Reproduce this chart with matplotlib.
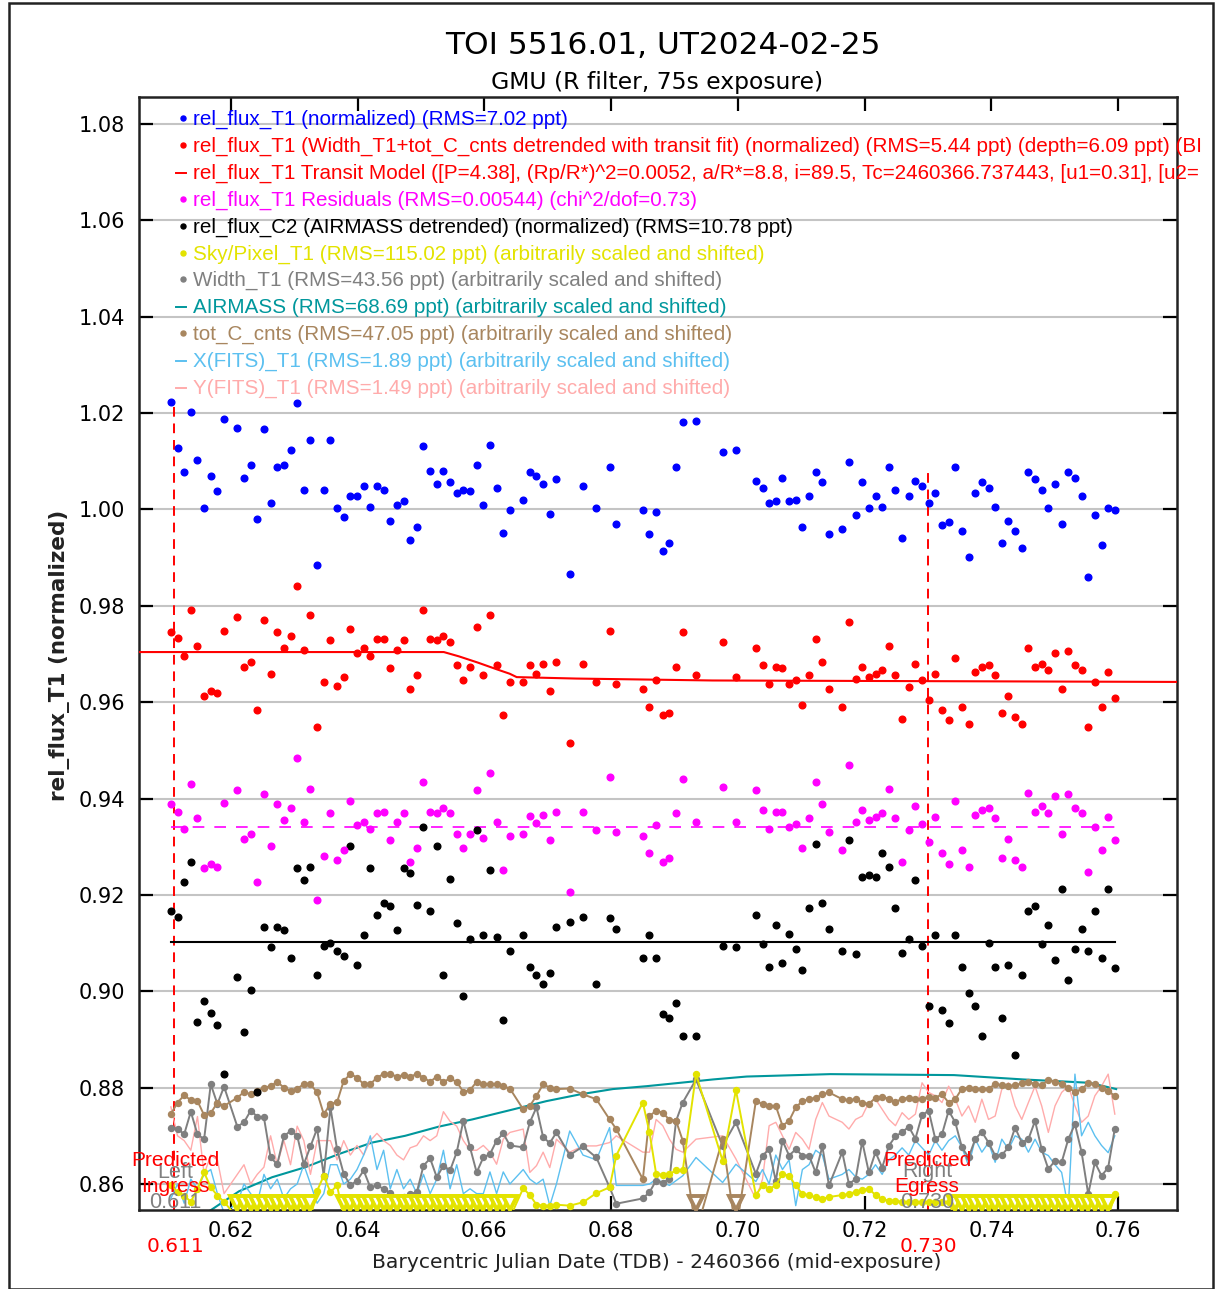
import numpy as np
import matplotlib
matplotlib.use("Agg")
import matplotlib.pyplot as plt
from matplotlib.lines import Line2D
from matplotlib.patches import Rectangle
from matplotlib.transforms import Bbox, TransformedBbox

# ---------------- data ----------------
T_START = 0.61053      # BJD - 2460366 of first exposure
CADENCE = 0.001049     # days between exposures
frame = [0, 1, 2, 3, 4, 5, 6, 7, 8,
         10, 11, 12, 13, 14, 15, 16, 17, 18, 19, 20, 21, 22, 23, 24, 25, 26, 27, 28, 29, 30,
         31, 32, 33, 34, 35, 36, 37, 38, 39, 40, 41, 42, 43, 44, 45, 46, 47, 48, 49, 50, 51,
         53, 54, 55, 56, 57, 58, 60, 62, 64, 66, 67,
         71, 72, 73, 74, 75, 76, 77, 79, 83, 85,
         88, 89, 90, 91, 92, 93, 94, 95, 96, 97, 98, 99,
         101, 102, 103, 104, 105, 106, 107, 108, 109, 110, 111, 112, 113, 114, 115, 116, 117, 118,
         119, 120, 121, 122, 123, 124, 125, 126, 127, 128, 129, 130, 131, 132, 133, 134, 135, 136,
         137, 138, 139, 140, 141, 142]

rel_flux_T1 = [1.0224, 1.0127, 1.0077, 1.0202, 1.0102, 1.0002, 1.0070, 1.0038, 1.0188,
    1.0170, 1.0066, 1.0092, 0.9981, 1.0167, 1.0013, 1.0088, 1.0092, 1.0123, 1.0220, 1.0041, 1.0145,
    0.9884, 1.0041, 1.0145, 1.0002, 0.9984, 1.0027, 1.0027, 1.0049, 1.0005, 1.0049, 1.0041, 0.9977,
    1.0010, 1.0017, 0.9937, 0.9963, 1.0131, 1.0080, 1.0052, 1.0080, 1.0056, 1.0034, 1.0041, 1.0038,
    1.0092, 1.0010, 1.0134, 1.0045, 0.9952, 0.9998,
    1.0020, 1.0077, 1.0070, 1.0052, 0.9991, 1.0063, 0.9866, 1.0049, 1.0002, 1.0088, 0.9970,
    0.9998, 0.9948, 0.9995, 0.9913, 0.9930, 1.0088, 1.0181, 1.0183, 1.0120, 1.0123,
    1.0059, 1.0045, 1.0013, 1.0017, 1.0066, 1.0017, 1.0020, 0.9963, 1.0027, 1.0077, 1.0056, 0.9948,
    0.9959, 1.0099, 0.9988, 1.0056, 1.0002, 1.0027, 1.0005, 1.0088, 1.0041, 0.9941, 1.0027, 1.0059,
    1.0049, 1.0013, 1.0034, 0.9967, 0.9974, 1.0088, 0.9955, 0.9902, 1.0034, 1.0056, 1.0045, 1.0005,
    0.9931, 0.9977, 0.9955, 0.9920, 1.0077, 1.0063, 1.0041, 1.0002, 1.0052, 0.9970, 1.0077, 1.0066,
    1.0027, 0.9859, 0.9988, 0.9927, 1.0002, 0.9998]

rel_flux_T1_detrended = [0.9745, 0.9734, 0.9695, 0.9791, 0.9716, 0.9613, 0.9624, 0.9620, 0.9748,
    0.9777, 0.9673, 0.9684, 0.9583, 0.9770, 0.9659, 0.9745, 0.9713, 0.9738, 0.9841, 0.9709, 0.9781,
    0.9548, 0.9641, 0.9728, 0.9634, 0.9652, 0.9752, 0.9702, 0.9713, 0.9695, 0.9731, 0.9731, 0.9670,
    0.9709, 0.9728, 0.9627, 0.9656, 0.9791, 0.9731, 0.9728, 0.9738, 0.9724, 0.9677, 0.9645, 0.9673,
    0.9755, 0.9656, 0.9781, 0.9677, 0.9574, 0.9641,
    0.9641, 0.9677, 0.9659, 0.9680, 0.9624, 0.9684, 0.9516, 0.9680, 0.9641, 0.9748, 0.9637,
    0.9627, 0.9591, 0.9645, 0.9574, 0.9577, 0.9673, 0.9745, 0.9656, 0.9724, 0.9652,
    0.9713, 0.9677, 0.9638, 0.9673, 0.9670, 0.9638, 0.9645, 0.9595, 0.9656, 0.9731, 0.9684, 0.9627,
    0.9591, 0.9766, 0.9649, 0.9673, 0.9652, 0.9659, 0.9666, 0.9716, 0.9656, 0.9566, 0.9631, 0.9680,
    0.9645, 0.9605, 0.9659, 0.9584, 0.9562, 0.9692, 0.9591, 0.9555, 0.9663, 0.9673, 0.9677, 0.9656,
    0.9577, 0.9613, 0.9570, 0.9555, 0.9713, 0.9673, 0.9680, 0.9666, 0.9702, 0.9627, 0.9706, 0.9677,
    0.9666, 0.9548, 0.9641, 0.9591, 0.9663, 0.9609]

residuals = [0.9388, 0.9373, 0.9337, 0.9431, 0.9359, 0.9255, 0.9265, 0.9258, 0.9391,
    0.9417, 0.9316, 0.9327, 0.9226, 0.9409, 0.9301, 0.9388, 0.9355, 0.9381, 0.9484, 0.9352, 0.9420,
    0.9190, 0.9280, 0.9369, 0.9273, 0.9294, 0.9395, 0.9345, 0.9352, 0.9337, 0.9369, 0.9373, 0.9313,
    0.9352, 0.9369, 0.9269, 0.9298, 0.9434, 0.9373, 0.9369, 0.9381, 0.9369, 0.9327, 0.9298, 0.9327,
    0.9417, 0.9318, 0.9452, 0.9352, 0.9251, 0.9323,
    0.9327, 0.9364, 0.9350, 0.9366, 0.9313, 0.9373, 0.9205, 0.9373, 0.9334, 0.9445, 0.9330,
    0.9323, 0.9287, 0.9345, 0.9269, 0.9277, 0.9369, 0.9441, 0.9352, 0.9424, 0.9352,
    0.9417, 0.9376, 0.9337, 0.9373, 0.9373, 0.9341, 0.9348, 0.9298, 0.9359, 0.9434, 0.9388, 0.9330,
    0.9294, 0.9470, 0.9352, 0.9376, 0.9355, 0.9362, 0.9369, 0.9420, 0.9359, 0.9269, 0.9334, 0.9384,
    0.9348, 0.9309, 0.9362, 0.9287, 0.9265, 0.9395, 0.9294, 0.9258, 0.9366, 0.9376, 0.9381, 0.9359,
    0.9277, 0.9316, 0.9273, 0.9258, 0.9412, 0.9373, 0.9384, 0.9369, 0.9405, 0.9327, 0.9409, 0.9381,
    0.9369, 0.9248, 0.9341, 0.9294, 0.9362, 0.9313]

rel_flux_C2 = [0.9166, 0.9155, 0.9226, 0.9269, 0.8937, 0.8980, 0.8955, 0.8930, 0.8829,
    0.9030, 0.8916, 0.9002, 0.8790, 0.9134, 0.9091, 0.9134, 0.9127, 0.9069, 0.9255, 0.9230, 0.9258,
    0.9034, 0.9094, 0.9101, 0.9084, 0.9073, 0.9301, 0.9055, 0.9116, 0.9255, 0.9159, 0.9184, 0.9176,
    0.9127, 0.9255, 0.9245, 0.9180, 0.9341, 0.9166, 0.9301, 0.9034, 0.9233, 0.9141, 0.8990, 0.9108,
    0.9334, 0.9116, 0.9251, 0.9112, 0.8941, 0.9084,
    0.9116, 0.9051, 0.9034, 0.9016, 0.9038, 0.9134, 0.9144, 0.9155, 0.9016, 0.9152, 0.9130,
    0.9069, 0.9116, 0.9069, 0.8952, 0.8944, 0.8976, 0.8908, 0.8908, 0.9094, 0.9091,
    0.9159, 0.9098, 0.9051, 0.9137, 0.9058, 0.9119, 0.9087, 0.9045, 0.9173, 0.9306, 0.9183, 0.9130,
    0.9084, 0.9313, 0.9077, 0.9237, 0.9241, 0.9237, 0.9287, 0.9258, 0.9173, 0.9080, 0.9108, 0.9230,
    0.9094, 0.8969, 0.9116, 0.8962, 0.8934, 0.9116, 0.9051, 0.8997, 0.8969, 0.8908, 0.9101, 0.9051,
    0.8944, 0.9055, 0.8867, 0.9034, 0.9166, 0.9176, 0.9098, 0.9137, 0.9065, 0.9212, 0.9023, 0.9087,
    0.9130, 0.9084, 0.9166, 0.9069, 0.9212, 0.9048]

sky_pixel = [0.8597, 0.8583, 0.8576, 0.8563, 0.8590, 0.8624, 0.8593, 0.8576, 0.8563,
    0.8530, 0.8530, 0.8530, 0.8530, 0.8530, 0.8530, 0.8530, 0.8530, 0.8530, 0.8530, 0.8530, 0.8530,
    0.8586, 0.8617, 0.8583, 0.8597, 0.8530, 0.8530, 0.8530, 0.8530, 0.8530, 0.8530, 0.8530, 0.8530,
    0.8530, 0.8530, 0.8530, 0.8530, 0.8530, 0.8530, 0.8530, 0.8530, 0.8530, 0.8530, 0.8530, 0.8530,
    0.8530, 0.8530, 0.8530, 0.8530, 0.8530, 0.8530,
    0.8591, 0.8577, 0.8557, 0.8555, 0.8555, 0.8557, 0.8555, 0.8562, 0.8581, 0.8593, 0.8659,
    0.8769, 0.8707, 0.8621, 0.8619, 0.8621, 0.8628, 0.8628, 0.8828, 0.8648, 0.8795,
    0.8577, 0.8597, 0.8590, 0.8597, 0.8621, 0.8617, 0.8597, 0.8579, 0.8577, 0.8572, 0.8569, 0.8573,
    0.8577, 0.8579, 0.8584, 0.8588, 0.8590, 0.8577, 0.8569, 0.8565, 0.8565, 0.8563, 0.8562, 0.8562,
    0.8562, 0.8562, 0.8562, 0.8562, 0.8562, 0.8530, 0.8530, 0.8530, 0.8530, 0.8530, 0.8530, 0.8530,
    0.8530, 0.8530, 0.8530, 0.8530, 0.8530, 0.8530, 0.8530, 0.8530, 0.8530, 0.8530, 0.8530, 0.8530,
    0.8530, 0.8530, 0.8530, 0.8530, 0.8530, 0.8579]

width_T1 = [0.8717, 0.8715, 0.8703, 0.8750, 0.8703, 0.8693, 0.8807, 0.8766, 0.8802,
    0.8719, 0.8728, 0.8752, 0.8740, 0.8738, 0.8655, 0.8641, 0.8699, 0.8710, 0.8700, 0.8641, 0.8678,
    0.8715, 0.8617, 0.8759, 0.8672, 0.8621, 0.8597, 0.8607, 0.8628, 0.8593, 0.8597, 0.8590, 0.8581,
    0.8565, 0.8572, 0.8579, 0.8583, 0.8638, 0.8653, 0.8614, 0.8638, 0.8628, 0.8666, 0.8731, 0.8676,
    0.8624, 0.8655, 0.8662, 0.8690, 0.8705, 0.8680,
    0.8676, 0.8728, 0.8759, 0.8697, 0.8685, 0.8707, 0.8660, 0.8678, 0.8655, 0.8593, 0.8559,
    0.8570, 0.8583, 0.8607, 0.8603, 0.8610, 0.8731, 0.8769, 0.8817, 0.8679, 0.8728,
    0.8621, 0.8659, 0.8672, 0.8606, 0.8690, 0.8659, 0.8672, 0.8659, 0.8659, 0.8624, 0.8678, 0.8597,
    0.8666, 0.8600, 0.8610, 0.8688, 0.8624, 0.8666, 0.8634, 0.8679, 0.8699, 0.8707, 0.8719, 0.8694,
    0.8743, 0.8752, 0.8693, 0.8703, 0.8752, 0.8728, 0.8676, 0.8655, 0.8693, 0.8708, 0.8686, 0.8659,
    0.8660, 0.8676, 0.8717, 0.8686, 0.8693, 0.8731, 0.8672, 0.8631, 0.8648, 0.8645, 0.8693, 0.8724,
    0.8666, 0.8579, 0.8645, 0.8617, 0.8634, 0.8715]

tot_C_cnts = [0.8745, 0.8769, 0.8784, 0.8774, 0.8772, 0.8743, 0.8747, 0.8769, 0.8762,
    0.8779, 0.8791, 0.8786, 0.8793, 0.8800, 0.8803, 0.8812, 0.8800, 0.8793, 0.8798, 0.8807, 0.8807,
    0.8790, 0.8745, 0.8766, 0.8770, 0.8814, 0.8828, 0.8821, 0.8807, 0.8807, 0.8821, 0.8828, 0.8828,
    0.8823, 0.8826, 0.8823, 0.8828, 0.8821, 0.8812, 0.8823, 0.8812, 0.8819, 0.8812, 0.8791, 0.8795,
    0.8812, 0.8807, 0.8807, 0.8807, 0.8803, 0.8798,
    0.8755, 0.8762, 0.8783, 0.8807, 0.8800, 0.8797, 0.8798, 0.8786, 0.8776, 0.8734, 0.8714,
    0.8610, 0.8741, 0.8752, 0.8748, 0.8733, 0.8731, 0.8690, 0.8500, 0.8693, 0.8500,
    0.8772, 0.8766, 0.8762, 0.8762, 0.8721, 0.8731, 0.8759, 0.8772, 0.8776, 0.8779, 0.8786, 0.8790,
    0.8776, 0.8774, 0.8776, 0.8769, 0.8766, 0.8779, 0.8781, 0.8777, 0.8770, 0.8777, 0.8779, 0.8776,
    0.8777, 0.8781, 0.8779, 0.8786, 0.8769, 0.8776, 0.8798, 0.8800, 0.8797, 0.8797, 0.8798, 0.8807,
    0.8805, 0.8803, 0.8805, 0.8809, 0.8812, 0.8807, 0.8805, 0.8816, 0.8812, 0.8807, 0.8800, 0.8791,
    0.8797, 0.8809, 0.8807, 0.8800, 0.8793, 0.8783]

x_fits = [0.8570, 0.8600, 0.8560, 0.8610, 0.8590, 0.8620, 0.8630, 0.8580, 0.8540,
    0.8560, 0.8600, 0.8580, 0.8560, 0.8620, 0.8590, 0.8610, 0.8570, 0.8590, 0.8600, 0.8640, 0.8600,
    0.8560, 0.8580, 0.8640, 0.8640, 0.8600, 0.8610, 0.8630, 0.8660, 0.8700, 0.8630, 0.8670, 0.8590,
    0.8630, 0.8590, 0.8610, 0.8580, 0.8620, 0.8580, 0.8610, 0.8670, 0.8590, 0.8640, 0.8580, 0.8590,
    0.8580, 0.8580, 0.8625, 0.8580, 0.8625, 0.8600,
    0.8630, 0.8610, 0.8600, 0.8610, 0.8555, 0.8600, 0.8710, 0.8660, 0.8650, 0.8717, 0.8597,
    0.8597, 0.8600, 0.8610, 0.8603, 0.8597, 0.8607, 0.8617, 0.8655, 0.8603, 0.8641,
    0.8605, 0.8630, 0.8600, 0.8660, 0.8630, 0.8650, 0.8555, 0.8630, 0.8640, 0.8670, 0.8660, 0.8610,
    0.8620, 0.8630, 0.8615, 0.8610, 0.8620, 0.8640, 0.8620, 0.8650, 0.8660, 0.8675, 0.8660, 0.8690,
    0.8675, 0.8660, 0.8690, 0.8670, 0.8690, 0.8700, 0.8676, 0.8638, 0.8693, 0.8666, 0.8686, 0.8645,
    0.8693, 0.8672, 0.8700, 0.8693, 0.8666, 0.8693, 0.8666, 0.8659, 0.8640, 0.8624, 0.8550, 0.8828,
    0.8700, 0.8728, 0.8700, 0.8680, 0.8665, 0.8700]

y_fits = [0.8760, 0.8700, 0.8690, 0.8670, 0.8740, 0.8620, 0.8660, 0.8650, 0.8580,
    0.8620, 0.8640, 0.8600, 0.8620, 0.8635, 0.8700, 0.8640, 0.8690, 0.8640, 0.8720, 0.8690, 0.8620,
    0.8690, 0.8690, 0.8690, 0.8650, 0.8690, 0.8660, 0.8680, 0.8660, 0.8690, 0.8705, 0.8690, 0.8680,
    0.8660, 0.8650, 0.8675, 0.8680, 0.8700, 0.8690, 0.8700, 0.8750, 0.8730, 0.8720, 0.8690, 0.8670,
    0.8670, 0.8680, 0.8666, 0.8641, 0.8693, 0.8707,
    0.8714, 0.8624, 0.8638, 0.8666, 0.8634, 0.8693, 0.8666, 0.8679, 0.8679, 0.8686, 0.8700,
    0.8666, 0.8666, 0.8734, 0.8721, 0.8693, 0.8672, 0.8666, 0.8693, 0.8700, 0.8652,
    0.8569, 0.8610, 0.8721, 0.8728, 0.8700, 0.8672, 0.8707, 0.8693, 0.8672, 0.8734, 0.8769, 0.8741,
    0.8728, 0.8714, 0.8734, 0.8741, 0.8769, 0.8776, 0.8755, 0.8734, 0.8721, 0.8748, 0.8734, 0.8745,
    0.8810, 0.8790, 0.8783, 0.8769, 0.8803, 0.8776, 0.8741, 0.8762, 0.8728, 0.8776, 0.8734, 0.8741,
    0.8797, 0.8810, 0.8762, 0.8734, 0.8769, 0.8803, 0.8762, 0.8707, 0.8762, 0.8790, 0.8803, 0.8762,
    0.8728, 0.8741, 0.8783, 0.8803, 0.8828, 0.8745]

airmass_t = [0.6105, 0.6213, 0.6265, 0.6318, 0.6370, 0.6423, 0.6475, 0.6528, 0.6581, 0.6646,
             0.6698, 0.6751, 0.6803, 0.6856, 0.6909, 0.6961, 0.7014, 0.7067, 0.7146, 0.7341,
             0.7450, 0.7555, 0.7597]
airmass_v = [0.8490, 0.8585, 0.8614, 0.8635, 0.8662, 0.8686, 0.8700, 0.8719, 0.8734, 0.8755,
             0.8772, 0.8786, 0.8797, 0.8803, 0.8810, 0.8817, 0.8823, 0.8825, 0.8828, 0.8826,
             0.8817, 0.8810, 0.8797]

model_t = [0.6055, 0.6536, 0.6560, 0.6590, 0.6620, 0.6640, 0.6651, 0.6745, 0.6960, 0.7693]
model_v = [0.9704, 0.9704, 0.9695, 0.9682, 0.9668, 0.9659, 0.9652, 0.9649, 0.9645, 0.9642]

resid_level = 0.9341
comp_level = 0.9102
ingress, egress = 0.611, 0.730
ingress_top, egress_top = 1.0221, 1.0088

x_ticks = [0.62, 0.64, 0.66, 0.68, 0.70, 0.72, 0.74, 0.76]
y_ticks = [0.86, 0.88, 0.90, 0.92, 0.94, 0.96, 0.98, 1.00, 1.02, 1.04, 1.06, 1.08]
XLIM = (0.6055, 0.7693)
YLIM = (0.8546, 1.0856)

legend_entries = [
    ("rel_flux_T1 (normalized) (RMS=7.02 ppt)", "#0000ff", "dot"),
    ("rel_flux_T1 (Width_T1+tot_C_cnts detrended with transit fit) (normalized) (RMS=5.44 ppt) (depth=6.09 ppt) (BI", "#ff0000", "dot"),
    ("rel_flux_T1 Transit Model ([P=4.38], (Rp/R*)^2=0.0052, a/R*=8.8, i=89.5, Tc=2460366.737443, [u1=0.31], [u2=", "#ff0000", "line"),
    ("rel_flux_T1 Residuals (RMS=0.00544) (chi^2/dof=0.73)", "#ff00ff", "dot"),
    ("rel_flux_C2 (AIRMASS detrended) (normalized) (RMS=10.78 ppt)", "#000000", "dot"),
    ("Sky/Pixel_T1 (RMS=115.02 ppt) (arbitrarily scaled and shifted)", "#e3e300", "dot"),
    ("Width_T1 (RMS=43.56 ppt) (arbitrarily scaled and shifted)", "#808080", "dot"),
    ("AIRMASS (RMS=68.69 ppt) (arbitrarily scaled and shifted)", "#00979c", "line"),
    ("tot_C_cnts (RMS=47.05 ppt) (arbitrarily scaled and shifted)", "#a8865f", "dot"),
    ("X(FITS)_T1 (RMS=1.89 ppt) (arbitrarily scaled and shifted)", "#5cc0f0", "line"),
    ("Y(FITS)_T1 (RMS=1.49 ppt) (arbitrarily scaled and shifted)", "#ffabab", "line"),
]

# ---------------- figure ----------------
W, H = 1224, 1289
fig = plt.figure(figsize=(W / 100, H / 100), dpi=100)
fig.patch.set_facecolor("white")

def fx(px):
    return px / W

def fy(py):
    return 1 - py / H

ax = fig.add_axes([fx(139), fy(1210), (1177 - 139) / W, (1210 - 97) / H])
ax.set_xlim(*XLIM)
ax.set_ylim(*YLIM)

t = T_START + CADENCE * np.array(frame, dtype=float)

C_BLUE, C_RED, C_MAG, C_BLK = "#0000ff", "#ff0000", "#ff00ff", "#000000"
C_YEL, C_GRY, C_TEAL, C_BRN, C_LB, C_PINK = "#e3e300", "#7f7f7f", "#00979c", "#a8865f", "#5cc0f0", "#ffabab"

# grid
for yv in y_ticks:
    ax.axhline(yv, color="#c4c4c4", lw=1.5, zorder=0)

# predicted ingress / egress
ax.vlines([ingress], YLIM[0], ingress_top, colors=C_RED, linestyles=(0, (5, 3.5)), lw=1.4, zorder=1)
ax.vlines([egress], YLIM[0], egress_top, colors=C_RED, linestyles=(0, (5, 3.5)), lw=1.4, zorder=1)

# auxiliary series
ax.plot(airmass_t, airmass_v, color=C_TEAL, lw=1.5, zorder=2)
ax.plot(t, y_fits, color=C_PINK, lw=1.0, zorder=2)
ax.plot(t, x_fits, color=C_LB, lw=1.0, zorder=2)
ax.plot(t, width_T1, color=C_GRY, lw=1.4, marker="o", ms=4.3, zorder=3)
ax.plot(t, tot_C_cnts, color=C_BRN, lw=1.4, marker="o", ms=4.3, zorder=3)
ax.plot(t, sky_pixel, color=C_YEL, lw=1.4, marker="o", ms=4.3, zorder=4)

# points below the plotted range -> hollow down triangles at the bottom edge
edge_v = 0.8561
for series, col in ((tot_C_cnts, C_BRN), (sky_pixel, C_YEL)):
    arr = np.array(series)
    m = arr < YLIM[0]
    ax.plot(t[m], np.full(m.sum(), edge_v), linestyle="none", marker="v", ms=10.5,
            mfc="white", mec=col, mew=2.8, zorder=4)

# main series
ax.plot([t[0], t[-1]], [comp_level, comp_level], color=C_BLK, lw=1.5, zorder=5)
ax.plot(t, rel_flux_C2, linestyle="none", marker="o", ms=4.8, color=C_BLK, zorder=6)
ax.plot([t[0], t[-1]], [resid_level, resid_level], color=C_MAG, lw=1.2,
        linestyle=(0, (7, 6)), zorder=5)
ax.plot(t, residuals, linestyle="none", marker="o", ms=4.8, color=C_MAG, zorder=6)
ax.plot(model_t, model_v, color=C_RED, lw=1.5, zorder=5)
ax.plot(t, rel_flux_T1_detrended, linestyle="none", marker="o", ms=4.8, color=C_RED, zorder=6)
ax.plot(t, rel_flux_T1, linestyle="none", marker="o", ms=4.8, color=C_BLUE, zorder=6)

# axes styling
ax.set_xticks(x_ticks)
ax.set_xticklabels([f"{v:.2f}" for v in x_ticks])
ax.set_yticks(y_ticks)
ax.set_yticklabels([f"{v:.2f}" for v in y_ticks])
ax.tick_params(axis="both", direction="in", length=10, width=1.6, top=True, right=True,
               labelsize=15, colors="black", pad=8)
ax.tick_params(axis="y", pad=10)
for s in ax.spines.values():
    s.set_linewidth(1.8)
    s.set_color("#222222")

# predicted labels inside plot
for xc, words in ((175, ("Predicted", "Left", "Ingress", "0.611")),
                  (927, ("Predicted", "Right", "Egress", "0.730"))):
    fig.text(fx(xc), fy(1172), words[1], color="#808080", fontsize=15.5,
             family="Liberation Sans", ha="center", va="center", zorder=10)
    fig.text(fx(xc), fy(1203), words[3], color="#808080", fontsize=15.5,
             family="Liberation Sans", ha="center", va="center", zorder=10)
    fig.text(fx(xc), fy(1160), words[0], color=C_RED, fontsize=15,
             family="Liberation Sans", ha="center", va="center", zorder=11)
    fig.text(fx(xc), fy(1186), words[2], color=C_RED, fontsize=15,
             family="Liberation Sans", ha="center", va="center", zorder=11)

# red marker labels under the axis
fig.text(fx(175), fy(1246), "0.611", color=C_RED, fontsize=14.5, ha="center", va="center")
fig.text(fx(928), fy(1246), "0.730", color=C_RED, fontsize=14.5, ha="center", va="center")

# titles and axis labels
fig.text(fx(663), fy(46), "TOI 5516.01, UT2024-02-25", fontsize=22.5, ha="center", va="center")
fig.text(fx(657), fy(82), "GMU (R filter, 75s exposure)", fontsize=16.9, ha="center", va="center")
fig.text(fx(60), fy(655), "rel_flux_T1 (normalized)", fontsize=15.5, fontweight="bold",
         rotation=90, ha="center", va="center", color="#222222")
fig.text(fx(657), fy(1262), "Barycentric Julian Date (TDB) - 2460366 (mid-exposure)",
         fontsize=14.6, ha="center", va="center", color="#222222")

# legend (drawn as text lines)
clipbox = TransformedBbox(Bbox([[0, 0], [1213 / W, 1]]), fig.transFigure)
legend_y = [118, 145, 172, 199, 226, 253, 279, 306, 333, 360, 387]
for (txt, col, kind), yy in zip(legend_entries, legend_y):
    if kind == "dot":
        fig.add_artist(Line2D([fx(183)], [fy(yy)], marker="o", ms=3.6, color=col,
                              linestyle="none", transform=fig.transFigure))
    else:
        fig.add_artist(Line2D([fx(176), fx(186)], [fy(yy + 1), fy(yy + 1)], color=col,
                              lw=1.4, transform=fig.transFigure))
    tx = fig.text(fx(193), fy(yy + 7), txt, color=col, fontsize=14.9,
                  family="Liberation Sans", ha="left", va="baseline")
    tx.set_clip_box(clipbox)
    tx.set_clip_on(True)

# window frame
fig.add_artist(Rectangle((fx(9), fy(1289)), (1213 - 9) / W, (1289 - 3) / H, fill=False,
                         lw=1.8, edgecolor="#222222", transform=fig.transFigure))

fig.savefig("out.png", dpi=100)
